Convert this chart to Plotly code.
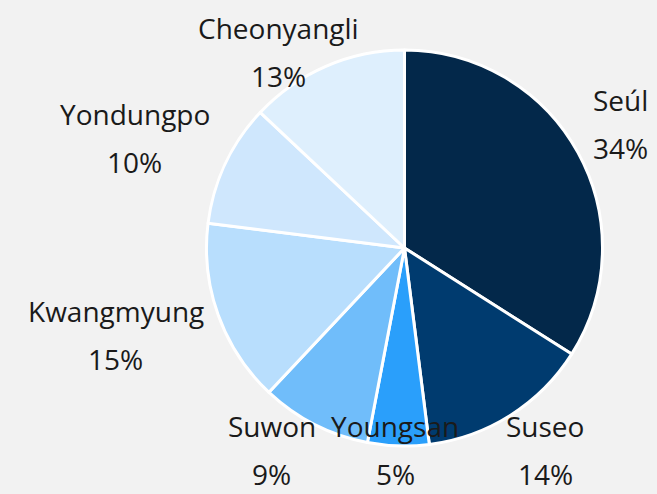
import math
import plotly.graph_objects as go

categories = ["Seúl", "Suseo", "Youngsan", "Suwon", "Kwangmyung", "Yondungpo", "Cheonyangli"]
values = [34, 14, 5, 9, 15, 10, 13]
colors = ["#03284a", "#003b6f", "#2a9ffb", "#70bdfa", "#b8defd", "#cfe7fd", "#deeffd"]

W, H = 657, 494
CX, CY, R = 404.5, 248.0, 198.0
FS = 28
BG = "#f2f2f2"

fig = go.Figure(go.Pie(
    labels=categories, values=values, sort=False, direction="clockwise", rotation=0,
    marker=dict(colors=colors, line=dict(color="white", width=3)),
    textinfo="none", hoverinfo="label+percent", showlegend=False,
    domain=dict(x=[(CX - R) / W, (CX + R) / W], y=[1 - (CY + R) / H, 1 - (CY - R) / H]),
))

total = sum(values)
cum = 0
rl = 1.1 * R
hh = 40
ybottom = 450
boxes = []
for lab, v in zip(categories, values):
    mid = (cum + v / 2) / total * 2 * math.pi
    cum += v
    dx, dy = math.sin(mid), -math.cos(mid)
    px, py = CX + dx * rl, CY + dy * rl
    w = len(lab) * 0.58 * FS
    cx = px + dx * w * 0.55
    cx = min(max(cx, w / 2 + 4), W - w / 2 - 4)
    cy = min(max(py + dy * hh, 52), ybottom)
    boxes.append(dict(lab=lab, v=v, cx=cx, cy=cy, w=w))

# collision resolution for labels sharing the bottom row
gap = 18
row = sorted([b for b in boxes if b["cy"] >= ybottom], key=lambda b: b["cx"])
for i in range(len(row) - 2, -1, -1):
    a, b = row[i], row[i + 1]
    limit = (b["cx"] - b["w"] / 2) - gap
    if a["cx"] + a["w"] / 2 > limit:
        a["cx"] = limit - a["w"] / 2

for b in boxes:
    pct = f"{round(b['v'] / total * 100)}%"
    for txt, yy in ((b["lab"], b["cy"] - 24), (pct, b["cy"] + 24)):
        fig.add_annotation(x=b["cx"] / W, y=1 - yy / H, xref="paper", yref="paper",
                           text=txt, showarrow=False, xanchor="center", yanchor="middle",
                           font=dict(size=FS, color="#1a1a1a", family="Open Sans"))

fig.update_layout(width=W, height=H, margin=dict(l=0, r=0, t=0, b=0),
                  paper_bgcolor=BG, plot_bgcolor=BG,
                  font=dict(family="Open Sans"))
fig.write_html("out.html", config={"displayModeBar": False},
               post_script="document.body.style.margin='0';document.body.style.overflow='hidden';")
